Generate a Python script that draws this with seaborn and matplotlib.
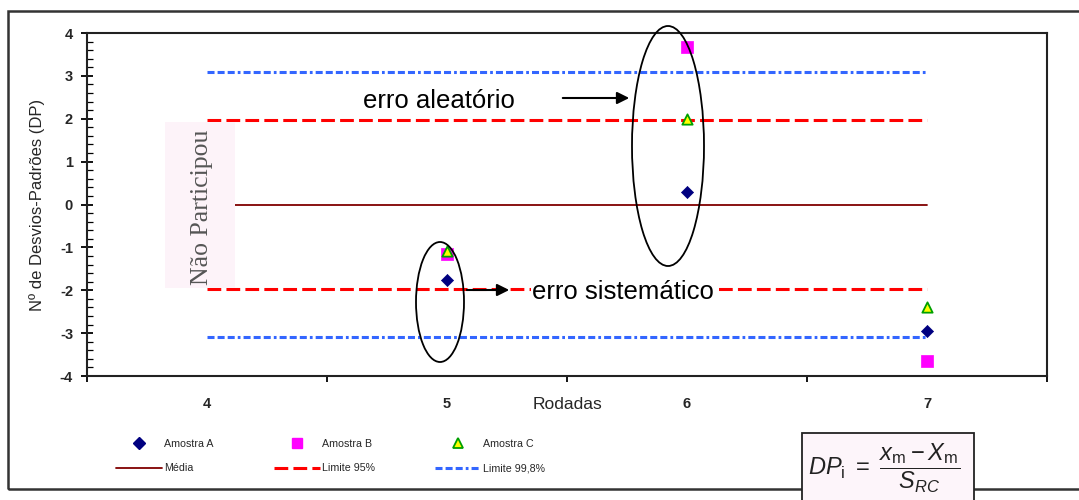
import matplotlib
matplotlib.use("Agg")
import matplotlib.pyplot as plt
from matplotlib.patches import Ellipse, Rectangle
from matplotlib.lines import Line2D
import seaborn as sns
import pandas as pd
import numpy as np

# ---- data ----
rodadas = ["4", "5", "6", "7"]
amostra_a = [np.nan, -1.76, 0.29, -2.95]
amostra_b = [np.nan, -1.15, 3.67, -3.65]
amostra_c = [np.nan, -1.08, 2.00, -2.39]
media = [0, 0, 0, 0]
limite95_sup = [1.96, 1.96, 1.96, 1.96]
limite95_inf = [-1.96, -1.96, -1.96, -1.96]
limite998_sup = [3.09, 3.09, 3.09, 3.09]
limite998_inf = [-3.09, -3.09, -3.09, -3.09]
y_ticks = [-4, -3, -2, -1, 0, 1, 2, 3, 4]

sns.set_theme(style="white")
plt.rcParams['font.family'] = ['Liberation Sans', 'DejaVu Sans']
plt.rcParams['mathtext.fontset'] = 'custom'
plt.rcParams['mathtext.rm'] = 'Liberation Sans'
plt.rcParams['mathtext.it'] = 'Liberation Sans:italic'

W, H = 1079, 500
fig = plt.figure(figsize=(W / 100, H / 100), dpi=100)
fig.patch.set_facecolor("white")

ax_l, ax_r, ax_t, ax_b = 87, 1047, 33, 376
ax = fig.add_axes([ax_l / W, 1 - ax_b / H, (ax_r - ax_l) / W, (ax_b - ax_t) / H])

pos = list(range(len(rodadas)))
df = pd.DataFrame({"pos": pos, "A": amostra_a, "B": amostra_b, "C": amostra_c,
                   "media": media, "l95s": limite95_sup, "l95i": limite95_inf,
                   "l998s": limite998_sup, "l998i": limite998_inf})

blue_ls = (0, (2.3, 1.0, 2.3, 1.0, 2.3, 1.0, 0.9, 1.0))
red_ls = (0, (4.5, 1.7))

sns.lineplot(data=df, x="pos", y="media", ax=ax, color="#800000", lw=1.3, zorder=2)
for col in ["l95s", "l95i"]:
    sns.lineplot(data=df, x="pos", y=col, ax=ax, color="#FF0000", lw=2.2,
                 linestyle=red_ls, zorder=2)
for col in ["l998s", "l998i"]:
    sns.lineplot(data=df, x="pos", y=col, ax=ax, color="#3366FF", lw=2.2,
                 linestyle=blue_ls, zorder=2)

sns.scatterplot(data=df, x="pos", y="B", ax=ax, marker="s", s=70, color="#FF00FF",
                edgecolor="#FF00FF", linewidth=0.5, zorder=4)
sns.scatterplot(data=df, x="pos", y="C", ax=ax, marker="^", s=55, color="#FFFF00",
                edgecolor="#00A000", linewidth=1.3, zorder=5)
sns.scatterplot(data=df, x="pos", y="A", ax=ax, marker="D", s=38, color="#000080",
                edgecolor="#000080", linewidth=0.5, zorder=6)

ax.set_xlim(-0.5, 3.5)
ax.set_ylim(-4, 4)
ax.set_yticks(y_ticks)
ax.set_yticks(np.arange(-4, 4.01, 0.2), minor=True)
ax.set_yticklabels([str(v) for v in y_ticks], fontsize=10.5, fontweight="bold")
ax.set_xticks([-0.5, 0.5, 1.5, 2.5, 3.5])
ax.set_xticklabels([])
ax.set_xticks(pos, minor=True)
ax.set_xticklabels(rodadas, minor=True, fontsize=10.5, fontweight="bold")
ax.tick_params(axis="x", which="major", direction="out", length=4, width=1.3, color="black", bottom=True)
ax.tick_params(axis="x", which="minor", length=0, pad=15)
ax.tick_params(axis="y", which="major", direction="inout", length=8, width=1.3, color="black", left=True, pad=6)
ax.tick_params(axis="y", which="minor", direction="in", length=4, width=0.9, color="black", left=True)
for s in ax.spines.values():
    s.set_color("#222222")
    s.set_linewidth(1.5)
ax.set_xlabel("Rodadas", fontsize=12.5, labelpad=-10)
ax.set_ylabel("Nº de Desvios-Padrões (DP)", fontsize=12, labelpad=11)

# "Não Participou" box
def px2d(px, py):
    return ((px - ax_l) / 240 - 0.5, (204.5 - py) / 42.875)

x0, y0 = px2d(165, 288)
x1, y1 = px2d(235, 122)
ax.add_patch(Rectangle((x0, y0), x1 - x0, y1 - y0, facecolor="#FDF3F9", edgecolor="none", zorder=3))
cx, cy = px2d(202, 207)
ax.text(cx, cy, "Não Participou", rotation=90, ha="center", va="center", fontsize=18.5,
        family="Liberation Serif", color="#555555", zorder=3.5)

# ellipses
ex, ey = px2d(440, 302)
ax.add_patch(Ellipse((ex, ey), 48 / 240, 120 / 42.875, fill=False, edgecolor="black", lw=1.3, zorder=7, clip_on=False))
ex, ey = px2d(668, 146)
ax.add_patch(Ellipse((ex, ey), 72 / 240, 240 / 42.875, fill=False, edgecolor="black", lw=1.3, zorder=7, clip_on=False))

# arrows + labels
a0 = px2d(560, 98); a1 = px2d(632, 98)
ax.annotate("", xy=a1, xytext=a0, arrowprops=dict(arrowstyle="-|>", color="black", lw=1.5, mutation_scale=18), zorder=8)
tx, ty = px2d(363, 101)
ax.text(tx, ty, "erro aleatório", ha="left", va="center", fontsize=18.5, color="black", zorder=8)
a0 = px2d(464, 290); a1 = px2d(512, 290)
ax.annotate("", xy=a1, xytext=a0, arrowprops=dict(arrowstyle="-|>", color="black", lw=1.5, mutation_scale=18), zorder=8)
tx, ty = px2d(532, 292)
ax.text(tx, ty, "erro sistemático", ha="left", va="center", fontsize=18.5, color="black", zorder=8,
        bbox=dict(facecolor="white", edgecolor="none", pad=0.5))

# legend
handles = [
    Line2D([], [], ls="none", marker="D", ms=6, color="#000080"),
    Line2D([], [], color="#800000", lw=1.3),
    Line2D([], [], ls="none", marker="s", ms=7, color="#FF00FF"),
    Line2D([], [], color="#FF0000", lw=2.2, ls=red_ls),
    Line2D([], [], ls="none", marker="^", ms=7, markerfacecolor="#FFFF00", markeredgecolor="#00A000", markeredgewidth=1.3),
    Line2D([], [], color="#3366FF", lw=2.2, ls=blue_ls),
]
labels = ["Amostra A", "Média", "Amostra B", "Limite 95%", "Amostra C", "Limite 99,8%"]
fig.legend(handles, labels, ncol=3, loc="center left", bbox_to_anchor=(116 / W, 1 - 456 / H),
           frameon=False, fontsize=7.7, handlelength=4.3, handletextpad=0.2,
           columnspacing=5.6, labelspacing=1.4, borderpad=0, borderaxespad=0)

# outer border
fig.patches.append(Rectangle((8 / W, 1 - 489 / H), (1100 - 8) / W, (489 - 11) / H,
                             transform=fig.transFigure, fill=False, edgecolor="#333333", lw=1.8, zorder=1))
# formula box
fig.patches.append(Rectangle((802 / W, -0.05), (974 - 802) / W, (1 - 433 / H) + 0.05,
                             transform=fig.transFigure, facecolor="#FDF5FA", edgecolor="#222222", lw=1.3, zorder=5))
fig.text(884 / W, 1 - 468 / H, r"$DP_{\mathrm{i}}\ =\ \dfrac{x_{\mathrm{m}} - X_{\mathrm{m}}}{S_{RC}}$",
         ha="center", va="center", fontsize=17, color="#222222", zorder=6)

fig.savefig("out.png", dpi=100)
